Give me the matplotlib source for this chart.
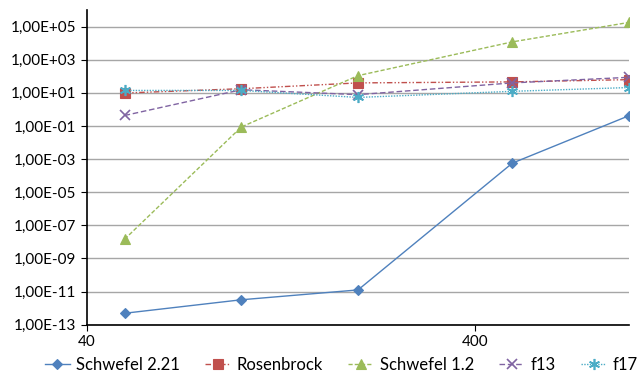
import matplotlib
matplotlib.use("Agg")
import matplotlib.pyplot as plt
from matplotlib.ticker import FixedLocator, FuncFormatter, NullLocator

plt.rcParams['font.family'] = ['Lato', 'DejaVu Sans']

dims = [50, 100, 200, 500, 1000]
schwefel221 = [4.9e-13, 3.2e-12, 1.26e-11, 5.7e-4, 0.42]
rosenbrock = [9.8, 17.8, 40, 46, 63]
schwefel12 = [1.45e-8, 0.087, 110, 1.2e4, 1.8e5]
f13 = [0.43, 15.5, 7.8, 40, 87]
f17 = [14, 14, 5.3, 12.4, 21]

series = [
    ("Schwefel 2.21", schwefel221, '#4F81BD', '-', 'D', 5),
    ("Rosenbrock", rosenbrock, '#C0504D', (0, (4, 1.5, 1, 1.5, 1, 1.5)), 's', 7),
    ("Schwefel 1.2", schwefel12, '#9BBB59', (0, (3, 1.5)), '^', 7),
    ("f13", f13, '#8064A2', (0, (4, 2)), 'x', 7),
    ("f17", f17, '#4BACC6', (0, (1, 1)), (6, 2, 0), 8),
]

fig = plt.figure(figsize=(6.38, 3.73), dpi=100)
ax = fig.add_axes([0.1364, 0.1295, 0.8496, 0.8435])

for name, vals, col, ls, mk, ms in series:
    thin = mk == 'x' or isinstance(mk, tuple)
    ax.plot(dims, vals, color=col, linestyle=ls, linewidth=1, marker=mk,
            markersize=ms, markeredgecolor=col, markerfacecolor=col,
            markeredgewidth=1.2 if thin else 0.8, label=name)

ax.set_xscale('log')
ax.set_yscale('log')
ax.set_xlim(40, 1000)
ax.set_ylim(1e-13, 1e6)

yticks = [10.0 ** e for e in range(-13, 6, 2)]
ax.yaxis.set_major_locator(FixedLocator(yticks))
ax.yaxis.set_minor_locator(NullLocator())


def sci_comma(v, pos):
    s = "%.2E" % v
    mant, exp = s.split('E')
    return mant.replace('.', ',') + 'E' + exp[0] + exp[1:].zfill(2)


ax.yaxis.set_major_formatter(FuncFormatter(sci_comma))
ax.xaxis.set_major_locator(FixedLocator([40, 400]))
ax.xaxis.set_minor_locator(NullLocator())
ax.xaxis.set_major_formatter(FuncFormatter(lambda v, p: "%d" % v))

ax.grid(axis='y', color='#a6a6a6', linewidth=1)
ax.set_axisbelow(True)
for s in ['top', 'right']:
    ax.spines[s].set_visible(False)
for s in ['left', 'bottom']:
    ax.spines[s].set_color('black')
    ax.spines[s].set_linewidth(1.2)

ax.tick_params(axis='both', labelsize=11, length=4, color='black', direction='out')

fig.legend(loc='lower left', bbox_to_anchor=(0.07, 0.0, 0.93, 0.055),
           bbox_transform=fig.transFigure, mode='expand', ncol=5, frameon=False,
           fontsize=12, handlelength=1.5, handletextpad=0.4, borderaxespad=0.0,
           borderpad=0.0)

fig.savefig("out.png", dpi=100)
